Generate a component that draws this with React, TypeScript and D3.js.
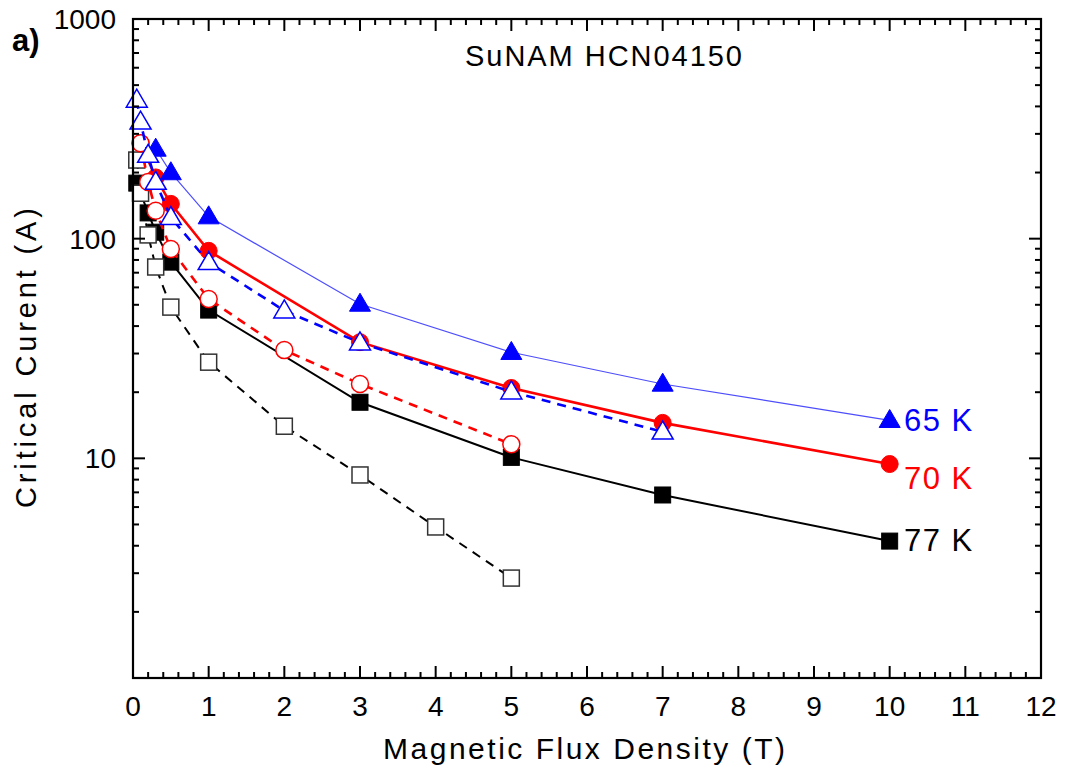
import React from "react";
import * as d3 from "d3";

const xTicks = [0, 1, 2, 3, 4, 5, 6, 7, 8, 9, 10, 11, 12];
const yTickLabels = [10, 100, 1000];

const x65f = [0.3, 0.5, 1, 3, 5, 7, 10];
const y65f = [256, 200, 126, 50.4, 30.4, 21.8, 14.9];
const x65o = [0.05, 0.1, 0.2, 0.3, 0.5, 1, 2, 3, 5, 7];
const y65o = [428, 340, 240, 181, 125, 78, 47, 33.6, 20.1, 13.2];
const x70f = [0.1, 0.3, 0.5, 1, 3, 5, 7, 10];
const y70f = [272, 190, 144, 88, 33.8, 20.9, 14.5, 9.42];
const x70o = [0.1, 0.2, 0.3, 0.5, 1, 2, 3, 5];
const y70o = [272, 181, 134, 89.7, 53.1, 31.1, 21.8, 11.6];
const x77f = [0.05, 0.2, 0.3, 0.5, 1, 3, 5, 7, 10];
const y77f = [179, 131, 107, 78.2, 47.3, 18.0, 10.1, 6.81, 4.2];
const x77o = [0.05, 0.1, 0.2, 0.3, 0.5, 1, 2, 3, 4, 5];
const y77o = [228, 161, 104, 74.3, 48.8, 27.4, 14.0, 8.4, 4.87, 2.85];

const labels = ["65 K", "70 K", "77 K"];

const FONT = "Arial, 'Liberation Sans', sans-serif";

export default function App() {
  const W = 1067, H = 778;
  const L = 133, R = 1041, T = 19, B = 678;
  const xs = d3.scaleLinear().domain([0, 12]).range([L, R]);
  const ys = d3.scaleLog().domain([1, 1000]).range([B, T]);

  const mk = (xa: number[], ya: number[]) => xa.map((v, i) => [v, ya[i]] as [number, number]);
  const line = d3.line<[number, number]>().x(d => xs(d[0])).y(d => ys(d[1]));

  const series = [
    { d: mk(x77f, y77f), color: "#000", lw: 2, dash: "", shape: "square", fill: true },
    { d: mk(x77o, y77o), color: "#000", lw: 2, dash: "9,7", shape: "square", fill: false },
    { d: mk(x70f, y70f), color: "#ff0000", lw: 2.6, dash: "", shape: "circle", fill: true },
    { d: mk(x70o, y70o), color: "#ff0000", lw: 2.6, dash: "9,7", shape: "circle", fill: false },
    { d: mk(x65f, y65f), color: "#4d4dff", lw: 1.2, dash: "", shape: "tri", fill: true, mcolor: "#0000ff" },
    { d: mk(x65o, y65o), color: "#0000ff", lw: 2.6, dash: "9,7", shape: "tri", fill: false, mcolor: "#0000ff" },
  ];

  const marker = (s: any, p: [number, number], i: number) => {
    const cx = xs(p[0]), cy = ys(p[1]);
    const col = s.mcolor || s.color;
    const fill = s.fill ? col : "#fff";
    const sw = s.fill ? 1 : 1.5;
    const stroke = s.fill ? col : (s.shape === "square" ? "#333" : col);
    if (s.shape === "square") {
      return <rect key={i} x={cx - 8} y={cy - 8} width={16} height={16} fill={fill} stroke={stroke} strokeWidth={sw} />;
    }
    if (s.shape === "circle") {
      return <circle key={i} cx={cx} cy={cy} r={8.5} fill={fill} stroke={stroke} strokeWidth={sw} />;
    }
    const h = 18, w = 21;
    const pts = `${cx},${cy - h * 0.6} ${cx - w / 2},${cy + h * 0.4} ${cx + w / 2},${cy + h * 0.4}`;
    return <polygon key={i} points={pts} fill={fill} stroke={stroke} strokeWidth={sw} />;
  };

  const xMinor: number[] = [];
  for (let v = 0; v <= 12.0001; v += 0.2) {
    const r = Math.round(v * 10) / 10;
    if (Math.abs(r - Math.round(r)) > 1e-6) xMinor.push(r);
  }
  const yMajor = [1, 10, 100, 1000];
  const yMinor: number[] = [];
  for (const dec of [1, 10, 100]) for (let k = 2; k <= 9; k++) yMinor.push(dec * k);

  const axisW = 2.2;
  return (
    <svg width={W} height={H} style={{ display: "block", position: "absolute", left: 0, top: 0, background: "#fff" }}>
      <rect x={0} y={0} width={W} height={H} fill="#fff" />
      {series.map((s, si) => (
        <g key={si}>
          <path d={line(s.d) || ""} fill="none" stroke={s.color} strokeWidth={s.lw} strokeDasharray={s.dash || undefined} />
          {s.d.map((p, i) => marker(s, p, i))}
        </g>
      ))}
      <rect x={L} y={T} width={R - L} height={B - T} fill="none" stroke="#000" strokeWidth={axisW} />
      {xTicks.map(v => (
        <g key={"xt" + v}>
          <line x1={xs(v)} x2={xs(v)} y1={B} y2={B - 12} stroke="#000" strokeWidth={2} />
          <line x1={xs(v)} x2={xs(v)} y1={T} y2={T + 12} stroke="#000" strokeWidth={2} />
          <text x={xs(v)} y={B + 38} textAnchor="middle" fontFamily={FONT} fontSize={28}>{v}</text>
        </g>
      ))}
      {xMinor.map(v => (
        <g key={"xm" + v}>
          <line x1={xs(v)} x2={xs(v)} y1={B} y2={B - 6} stroke="#000" strokeWidth={2} />
          <line x1={xs(v)} x2={xs(v)} y1={T} y2={T + 6} stroke="#000" strokeWidth={2} />
        </g>
      ))}
      {yMajor.map(v => (
        <g key={"ym" + v}>
          <line x1={L} x2={L + 12} y1={ys(v)} y2={ys(v)} stroke="#000" strokeWidth={2} />
          <line x1={R} x2={R - 12} y1={ys(v)} y2={ys(v)} stroke="#000" strokeWidth={2} />
        </g>
      ))}
      {yMinor.map(v => (
        <g key={"yn" + v}>
          <line x1={L} x2={L + 6} y1={ys(v)} y2={ys(v)} stroke="#000" strokeWidth={2} />
          <line x1={R} x2={R - 6} y1={ys(v)} y2={ys(v)} stroke="#000" strokeWidth={2} />
        </g>
      ))}
      {yTickLabels.map(v => (
        <text key={"yl" + v} x={L - 17} y={ys(v) + 10} textAnchor="end" fontFamily={FONT} fontSize={28}>{v}</text>
      ))}
      <text x={584} y={759} textAnchor="middle" fontFamily={FONT} fontSize={30} textLength={402} lengthAdjust="spacing">Magnetic Flux Density (T)</text>
      <text transform={`translate(36, 358) rotate(-90)`} textAnchor="middle" fontFamily={FONT} fontSize={29} textLength={300} lengthAdjust="spacing">Critical Curent (A)</text>
      <text x={12} y={51} fontFamily={FONT} fontSize={31} fontWeight="bold">a)</text>
      <text x={603.5} y={66} textAnchor="middle" fontFamily={FONT} fontSize={29} textLength={277} lengthAdjust="spacing">SuNAM HCN04150</text>
      <text x={904} y={ys(y65f[6]) + 11} fontFamily={FONT} fontSize={31} letterSpacing={1.5} fill="#0000ff">{labels[0]}</text>
      <text x={904} y={ys(y70f[7]) + 25} fontFamily={FONT} fontSize={31} letterSpacing={1.5} fill="#ff0000">{labels[1]}</text>
      <text x={904} y={ys(y77f[8]) + 10} fontFamily={FONT} fontSize={31} letterSpacing={1.5} fill="#000">{labels[2]}</text>
    </svg>
  );
}
